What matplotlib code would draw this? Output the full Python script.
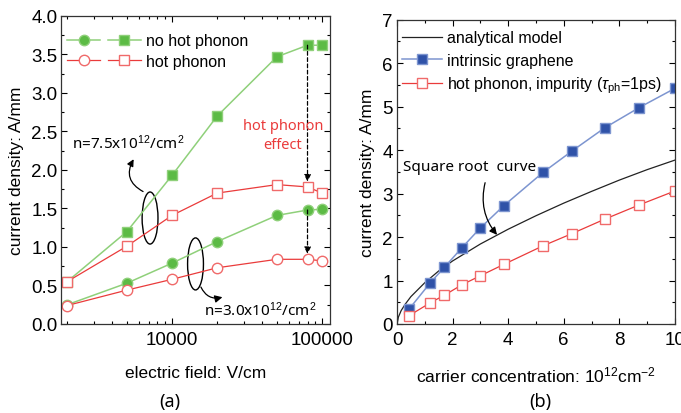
import numpy as np
import matplotlib.pyplot as plt
from matplotlib.patches import Ellipse
from matplotlib.legend_handler import HandlerTuple
from matplotlib.ticker import MultipleLocator, FixedLocator, NullFormatter

plt.rcParams['font.family'] = ['Liberation Sans', 'DejaVu Sans']
plt.rcParams['font.size'] = 12
plt.rcParams['mathtext.fontset'] = 'custom'
plt.rcParams['mathtext.rm'] = 'Liberation Sans'
plt.rcParams['mathtext.it'] = 'Liberation Sans:italic'

# ---- panel (a): current density vs electric field
field = [2000, 5000, 10000, 20000, 50000, 80000, 100000]
j75_nohot = [0.55, 1.20, 1.93, 2.70, 3.47, 3.62, 3.62]
j75_hot = [0.55, 1.01, 1.41, 1.70, 1.81, 1.78, 1.70]
j30_nohot = [0.25, 0.53, 0.79, 1.07, 1.41, 1.48, 1.49]
j30_hot = [0.24, 0.44, 0.58, 0.73, 0.84, 0.84, 0.82]

# ---- panel (b): current density vs carrier concentration
conc = [0.43, 1.2, 1.7, 2.33, 3.0, 3.84, 5.26, 6.3, 7.47, 8.72, 10.0]
j_intrinsic = [0.34, 0.95, 1.30, 1.75, 2.21, 2.72, 3.49, 3.98, 4.51, 4.98, 5.42]
j_hot_imp = [0.19, 0.49, 0.66, 0.90, 1.11, 1.37, 1.80, 2.08, 2.41, 2.74, 3.06]
model_n = [0, 0.05, 0.15, 0.3, 0.5, 0.75, 1, 1.5, 2, 3, 4, 5, 6, 7, 8, 9, 10]
model_j = [0, 0.16, 0.31, 0.46, 0.63, 0.79, 0.95, 1.22, 1.45, 1.84, 2.18, 2.49,
           2.78, 3.05, 3.31, 3.55, 3.77]

green_line = '#8fd07a'
green_mk = '#5cbb45'
red = '#ea3b3b'
red_mk = '#f06a6a'
blue_line = '#7d95d0'
blue_mk = '#2f52a8'
ann_font = ['Noto Sans', 'DejaVu Sans']

fig = plt.figure(figsize=(6.81, 4.14), dpi=100)
ax1 = fig.add_axes([0.0896, 0.215, 0.395, 0.744])
ax2 = fig.add_axes([0.583, 0.215, 0.408, 0.735])

for ax in (ax1, ax2):
    ax.tick_params(which='both', direction='in', top=True, right=True, width=0.8)
    ax.tick_params(which='major', length=4)
    ax.tick_params(which='minor', length=2.5)
    for s in ax.spines.values():
        s.set_linewidth(0.9)
        s.set_color('#333333')

# panel (a)
sq_g, = ax1.plot(field, j75_nohot, '-s', color=green_line, lw=1.1, mfc=green_mk,
                 mec=green_line, ms=6.5)
ax1.plot(field, j75_hot, '-s', color=red, lw=0.9, mfc='white', mec=red_mk, ms=6.5)
ci_g, = ax1.plot(field, j30_nohot, '-o', color=green_line, lw=1.1, mfc=green_mk,
                 mec=green_line, ms=7.5)
ci_r, = ax1.plot(field, j30_hot, '-o', color=red, lw=0.9, mfc='white', mec=red_mk, ms=7.5)
sq_r, = ax1.plot([], [], '-s', color=red, lw=0.9, mfc='white', mec=red_mk, ms=6.5)

ax1.set_xscale('log')
ax1.set_xlim(1820, 113000)
ax1.set_ylim(0, 4.0)
ax1.xaxis.set_major_locator(FixedLocator([10000, 100000]))
ax1.set_xticklabels(['10000', '100000'])
ax1.xaxis.set_minor_locator(FixedLocator([2000, 3000, 4000, 5000, 6000, 7000, 8000, 9000,
                                          20000, 30000, 40000, 50000, 60000, 70000,
                                          80000, 90000]))
ax1.xaxis.set_minor_formatter(NullFormatter())
ax1.yaxis.set_minor_locator(MultipleLocator(0.25))
ax1.set_yticks(np.arange(0, 4.01, 0.5))
ax1.set_yticklabels(['%.1f' % v for v in np.arange(0, 4.01, 0.5)])
ax1.tick_params(axis='both', labelsize=13.5)
ax1.tick_params(axis='y', pad=2.5)
ax1.tick_params(axis='x', pad=5)
ax1.set_xlabel('electric field: V/cm', fontsize=12.5, labelpad=12)
ax1.set_ylabel('current density: A/mm', fontsize=12.5, labelpad=5)

ax1.legend([(ci_g, sq_g), (ci_r, sq_r)], ['no hot phonon', 'hot phonon'],
           handler_map={tuple: HandlerTuple(ndivide=None, pad=0.5)},
           loc='upper left', bbox_to_anchor=(-0.03, 0.99), frameon=False,
           handlelength=4.6, fontsize=11.5, labelspacing=0.35, handletextpad=0.3)

# dashed arrows for hot phonon effect
ax1.annotate('', xy=(80000, j75_hot[5] + 0.07), xytext=(80000, j75_nohot[5]),
             arrowprops=dict(arrowstyle='-|>', color='black', lw=0.9, ls=(0, (3, 2)),
                             mutation_scale=10, shrinkA=0, shrinkB=0))
ax1.annotate('', xy=(80000, j30_hot[5] + 0.07), xytext=(80000, j30_nohot[5]),
             arrowprops=dict(arrowstyle='-|>', color='black', lw=0.9, ls=(0, (3, 2)),
                             mutation_scale=10, shrinkA=0, shrinkB=0))
ax1.text(55000, 2.45, 'hot phonon\neffect', color=red, fontsize=10.5, ha='center',
         va='center', family=ann_font, linespacing=1.35)

# ellipses and labels for density groups
for cx, cy in [(0.331, 0.344), (0.5, 0.195)]:
    ax1.add_patch(Ellipse((cx, cy), 0.059, 0.169, transform=ax1.transAxes,
                          fill=False, ec='black', lw=1.0))
ax1.text(0.04, 0.59, r'n=7.5x10$^{12}$/cm$^2$', transform=ax1.transAxes,
         fontsize=11, family=ann_font, va='center')
ax1.text(0.53, 0.045, r'n=3.0x10$^{12}$/cm$^2$', transform=ax1.transAxes,
         fontsize=11, family=ann_font, va='center')
ax1.annotate('', xy=(0.27, 0.535), xytext=(0.305, 0.43), xycoords='axes fraction',
             arrowprops=dict(arrowstyle='-|>', color='black', lw=0.9,
                             connectionstyle='arc3,rad=-0.5', mutation_scale=10,
                             shrinkA=0, shrinkB=0))
ax1.annotate('', xy=(0.6, 0.087), xytext=(0.52, 0.12), xycoords='axes fraction',
             arrowprops=dict(arrowstyle='-|>', color='black', lw=0.9,
                             connectionstyle='arc3,rad=0.4', mutation_scale=11,
                             shrinkA=0, shrinkB=0))

# panel (b)
ax2.plot(model_n, model_j, '-', color='#222222', lw=0.9, label='analytical model')
ax2.plot(conc, j_intrinsic, '-s', color=blue_line, lw=1.1, mfc=blue_mk, mec=blue_line,
         ms=7, label='intrinsic graphene')
ax2.plot(conc, j_hot_imp, '-s', color=red, lw=0.9, mfc='white', mec=red_mk, ms=6.5,
         label=r'hot phonon, impurity ($\tau_{\rm ph}$=1ps)')
ax2.set_xlim(0, 10)
ax2.set_ylim(0, 7)
ax2.xaxis.set_major_locator(MultipleLocator(2))
ax2.xaxis.set_minor_locator(MultipleLocator(1))
ax2.yaxis.set_major_locator(MultipleLocator(1))
ax2.yaxis.set_minor_locator(MultipleLocator(0.5))
ax2.tick_params(axis='both', labelsize=13.5)
ax2.tick_params(axis='y', pad=3)
ax2.tick_params(axis='x', pad=5)
ax2.set_xlabel(r'carrier concentration: 10$^{12}$cm$^{-2}$', fontsize=12.5, labelpad=12)
ax2.set_ylabel('current density: A/mm', fontsize=12.5, labelpad=5)
ax2.legend(loc='upper left', bbox_to_anchor=(-0.035, 1.012), frameon=False, fontsize=11.5,
           handlelength=2.5, labelspacing=0.45, handletextpad=0.35)

ax2.text(0.022, 0.516, 'Square root  curve', transform=ax2.transAxes, fontsize=11,
         family=ann_font, va='center')
ax2.annotate('', xy=(3.6, 2.05), xytext=(3.17, 3.25),
             arrowprops=dict(arrowstyle='-|>', color='black', lw=0.9,
                             connectionstyle='arc3,rad=0.25', mutation_scale=11,
                             shrinkA=0, shrinkB=0))

fig.text(0.25, 0.018, '(a)', fontsize=13, ha='center', family=ann_font)
fig.text(0.793, 0.018, '(b)', fontsize=13, ha='center', family=ann_font)

fig.savefig('out.png', dpi=100)
